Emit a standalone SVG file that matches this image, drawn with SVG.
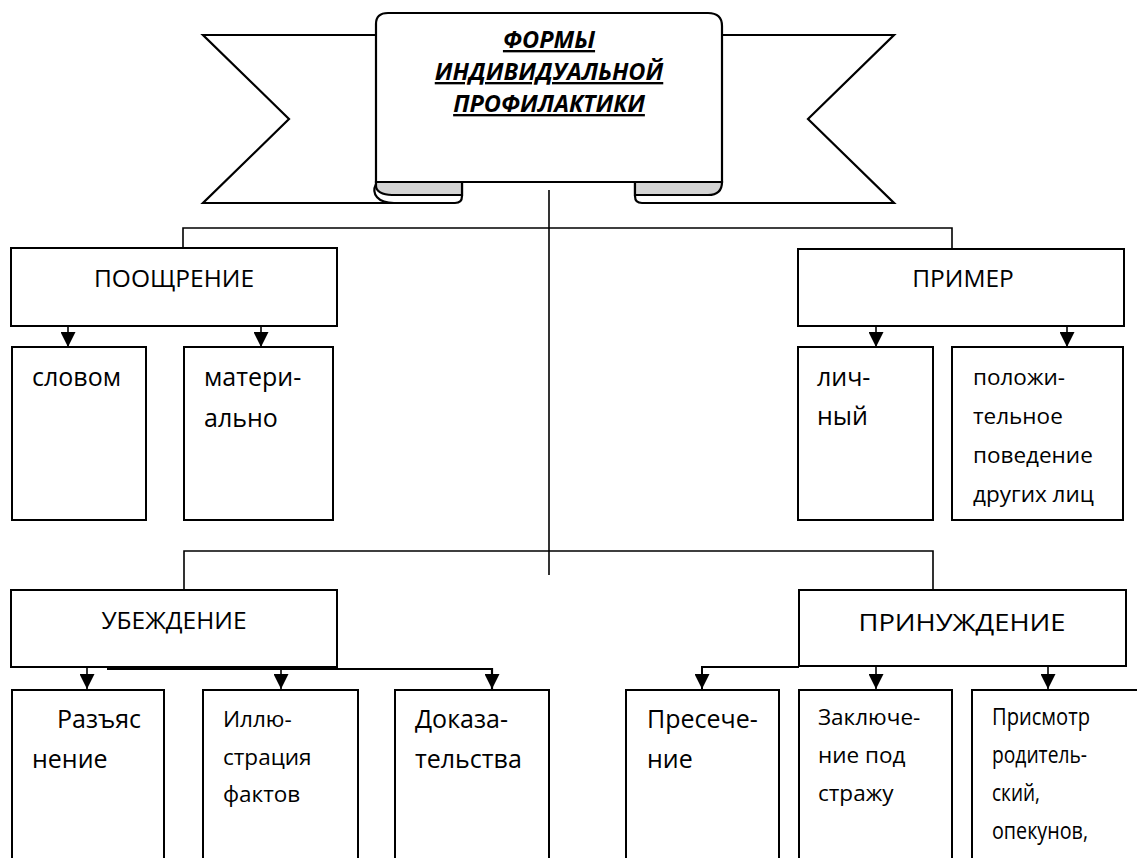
<svg xmlns="http://www.w3.org/2000/svg" width="1137" height="858" viewBox="0 0 1137 858">
<style>
.box{fill:#fff;stroke:#000;stroke-width:2}
.ln{fill:none;stroke:#000;stroke-width:1.6}
.rib{fill:#fff;stroke:#000;stroke-width:2.2;stroke-linejoin:miter}
.roll{fill:#d4d4d4;stroke:#000;stroke-width:2.2}
.t{font-family:"Open Sans","Liberation Sans",sans-serif;fill:#000}
.h{font-size:24.5px;text-anchor:middle}
.b{font-size:25px}
.s{font-size:22.5px}
.title{font-family:"Open Sans","Liberation Sans",sans-serif;font-size:23.5px;font-weight:bold;font-style:italic;text-anchor:middle;text-decoration:underline}
</style>
<defs>
<marker id="arr" viewBox="0 0 14 14" refX="14" refY="7" markerWidth="15" markerHeight="15" markerUnits="userSpaceOnUse" orient="auto">
<path d="M0,0 L14,7 L0,14 Z" fill="#000"/>
</marker>
</defs>

<g id="banner">
<path class="rib" d="M376 35 H203 L289 119 L203 203 H455 Q462 203 462 196 V183"/>
<path class="rib" d="M722 35 H894 L808 119 L894 203 H642 Q635 203 635 196 V183"/>
<path class="roll" d="M376 182 H462 V195 H392 C382 195 376 191 376 186 Z"/>
<path class="ln" style="stroke-width:2.2" d="M376 184 C371 194 378 203 394 203"/>
<path class="roll" d="M635 182 H722 Q722 195 708 195 H635 Z"/>
<path class="rib" d="M376 182 V24 Q376 13 388 13 H708 Q722 13 722 26 V182 Z"/>
<text class="title" x="549" y="48">ФОРМЫ</text>
<text class="title" x="549" y="80">ИНДИВИДУАЛЬНОЙ</text>
<text class="title" x="549" y="112">ПРОФИЛАКТИКИ</text>
</g>

<g id="connectors">
<path class="ln" d="M549 190 V575"/>
<path class="ln" d="M183 248 V228 H952 V249"/>
<path class="ln" d="M184 590 V551 H933 V590"/>
<path class="ln" marker-end="url(#arr)" d="M68 326 V347"/>
<path class="ln" marker-end="url(#arr)" d="M261 326 V347"/>
<path class="ln" marker-end="url(#arr)" d="M876 326 V347"/>
<path class="ln" marker-end="url(#arr)" d="M1067 326 V347"/>
<path class="ln" marker-end="url(#arr)" d="M87 667 V689"/>
<path class="ln" marker-end="url(#arr)" d="M281 667 V689"/>
<path class="ln" style="stroke-width:2.2" marker-end="url(#arr)" d="M107 669 H492 V689"/>
<path class="ln" style="stroke-width:2" marker-end="url(#arr)" d="M799 667 H702 V689"/>
<path class="ln" marker-end="url(#arr)" d="M876 666 V689"/>
<path class="ln" marker-end="url(#arr)" d="M1048 666 V689"/>
</g>

<g id="pooshchrenie">
<rect class="box" x="11" y="248" width="326" height="78"/>
<text class="t h" x="174" y="287">ПООЩРЕНИЕ</text>
</g>
<g id="slovom">
<rect class="box" x="12" y="347" width="134" height="173"/>
<text class="t b" x="32" y="386">словом</text>
</g>
<g id="materialno">
<rect class="box" x="184" y="347" width="149" height="173"/>
<text class="t b" x="204" y="386">матери-</text>
<text class="t b" x="204" y="427">ально</text>
</g>

<g id="primer">
<rect class="box" x="798" y="249" width="326" height="77"/>
<text class="t h" x="963" y="287">ПРИМЕР</text>
</g>
<g id="lichny">
<rect class="box" x="798" y="347" width="135" height="173"/>
<text class="t b" x="817" y="386">лич-</text>
<text class="t b" x="817" y="425">ный</text>
</g>
<g id="polozhitelnoe">
<rect class="box" x="952" y="347" width="171" height="173"/>
<text class="t s" x="973" y="385">положи-</text>
<text class="t s" x="973" y="424">тельное</text>
<text class="t s" x="973" y="463">поведение</text>
<text class="t s" x="973" y="502">других лиц</text>
</g>

<g id="ubezhdenie">
<rect class="box" x="11" y="590" width="326" height="77"/>
<text class="t h" x="174" y="629">УБЕЖДЕНИЕ</text>
</g>
<g id="razyasnenie">
<rect class="box" x="12" y="690" width="152" height="190"/>
<text class="t b" x="57" y="728">Разъяс</text>
<text class="t b" x="32" y="768">нение</text>
</g>
<g id="illyustratsiya">
<rect class="box" x="203" y="690" width="155" height="190"/>
<text class="t s" x="223" y="727">Иллю-</text>
<text class="t s" x="223" y="764.5">страция</text>
<text class="t s" x="223" y="802">фактов</text>
</g>
<g id="dokazatelstva">
<rect class="box" x="395" y="690" width="154" height="190"/>
<text class="t b" x="415" y="728">Доказа-</text>
<text class="t b" x="415" y="768">тельства</text>
</g>

<g id="prinuzhdenie">
<rect class="box" x="799" y="590" width="327" height="76"/>
<text class="t h" x="962" y="631" textLength="207" lengthAdjust="spacingAndGlyphs">ПРИНУЖДЕНИЕ</text>
</g>
<g id="presechenie">
<rect class="box" x="626" y="690" width="153" height="190"/>
<text class="t b" x="647" y="728">Пресече-</text>
<text class="t b" x="647" y="768">ние</text>
</g>
<g id="zaklyuchenie">
<rect class="box" x="799" y="690" width="153" height="190"/>
<text class="t s" x="818" y="725">Заключе-</text>
<text class="t s" x="818" y="763">ние под</text>
<text class="t s" x="818" y="801">стражу</text>
</g>
<g id="prismotr">
<rect class="box" x="972" y="690" width="180" height="190"/>
<text class="t" style="font-size:23px" x="992" y="725" textLength="98" lengthAdjust="spacingAndGlyphs">Присмотр</text>
<text class="t" style="font-size:23px" x="992" y="763" textLength="95" lengthAdjust="spacingAndGlyphs">родитель-</text>
<text class="t" style="font-size:23px" x="992" y="801" textLength="48" lengthAdjust="spacingAndGlyphs">ский,</text>
<text class="t" style="font-size:23px" x="992" y="839" textLength="96" lengthAdjust="spacingAndGlyphs">опекунов,</text>
</g>
</svg>
